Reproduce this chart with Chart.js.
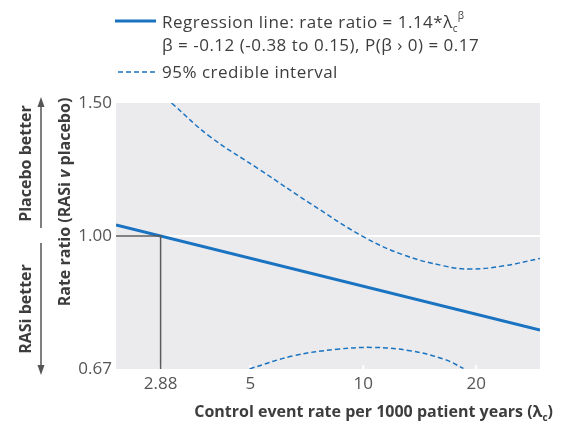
<!DOCTYPE html>
<html lang="en">
<head>
    <meta charset="UTF-8">
    <title>Rate ratio vs control event rate</title>
    <script src="https://cdn.jsdelivr.net/npm/chart.js"></script>
    <style>
        html, body { margin: 0; padding: 0; background: #fff; }
        #wrap { width: 568px; height: 425px; }
    </style>
</head>
<body>
    <div id="wrap"><canvas id="rateChart" width="568" height="425"></canvas></div>

    <script>
        // axis ranges and ticks (log scales)
        const xRange = [2.19, 29.6];
        const yRange = [0.6667, 1.5];
        const xTicks = [2.88, 5, 10, 20];
        const xTickLabels = ['2.88', '5', '10', '20'];
        const yTicks = [0.6667, 1, 1.5];
        const yTickLabels = ['0.67', '1.00', '1.50'];

        // regression line (straight on log-log axes)
        const regX = [2.19, 29.6];
        const regY = [1.034, 0.751];

        // 95% credible interval
        const upperX = [3.08, 3.90, 5.31, 7.21, 10.0, 12.8, 16.4, 19.3, 23.7, 29.6];
        const upperY = [1.5, 1.354, 1.223, 1.105, 0.998, 0.944, 0.913, 0.904, 0.913, 0.934];
        const lowerX = [4.97, 6.51, 8.50, 10.6, 13.3, 16.4, 18.5];
        const lowerY = [0.667, 0.694, 0.708, 0.712, 0.705, 0.687, 0.668];

        // reference lines at rate ratio 1.00 and control rate 2.88
        const refX = [2.19, 2.88, 2.88];
        const refY = [1, 1, 0.6667];

        const BLUE = '#1a73c0';
        const FONT = '"Open Sans", sans-serif';
        const TEXT = '#3d3d3d';

        const pts = (xs, ys) => xs.map((x, i) => ({ x: x, y: ys[i] }));

        // grey plot panel, white ticks, legend and axis titles
        const decorations = {
            id: 'decorations',
            beforeDraw(chart) {
                const a = chart.chartArea;
                const ctx = chart.ctx;
                ctx.save();
                ctx.fillStyle = '#ebebee';
                ctx.fillRect(a.left, a.top, a.right - a.left, a.bottom - a.top);
                ctx.restore();
            },
            beforeDatasetsDraw(chart) {
                const a = chart.chartArea;
                const ctx = chart.ctx;
                const xs = chart.scales.x;
                ctx.save();
                ctx.strokeStyle = '#ffffff';
                ctx.lineWidth = 2;
                xTicks.forEach(v => {
                    const px = xs.getPixelForValue(v);
                    ctx.beginPath();
                    ctx.moveTo(px, a.bottom);
                    ctx.lineTo(px, a.bottom - 4);
                    ctx.stroke();
                });
                ctx.restore();
            },
            afterDraw(chart) {
                const ctx = chart.ctx;
                const a = chart.chartArea;
                const ys = chart.scales.y;
                ctx.save();

                // legend
                ctx.strokeStyle = BLUE;
                ctx.lineWidth = 3;
                ctx.beginPath();
                ctx.moveTo(115, 21);
                ctx.lineTo(156, 21);
                ctx.stroke();
                ctx.lineWidth = 1.5;
                ctx.setLineDash([5, 3]);
                ctx.beginPath();
                ctx.moveTo(118, 72);
                ctx.lineTo(156, 72);
                ctx.stroke();
                ctx.setLineDash([]);

                ctx.fillStyle = TEXT;
                ctx.textBaseline = 'alphabetic';
                ctx.textAlign = 'left';
                ctx.letterSpacing = '0.5px';
                ctx.font = '17px ' + FONT;
                const l1 = 'Regression line: rate ratio = 1.14*\u03bb';
                ctx.fillText(l1, 162, 28);
                const w1 = ctx.measureText(l1).width;
                ctx.font = '10px ' + FONT;
                ctx.fillText('c', 162 + w1, 32);
                ctx.fillText('\u03b2', 162 + w1 + 5, 19);
                ctx.font = '17px ' + FONT;
                ctx.fillText('\u03b2 = -0.12 (-0.38 to 0.15), P(\u03b2 \u203a 0) = 0.17', 162, 51);
                ctx.fillText('95% credible interval', 162, 78);
                ctx.letterSpacing = '0px';

                // x axis title
                ctx.font = 'bold 16px ' + FONT;
                const xt = 'Control event rate per 1000 patient years (\u03bb';
                const wx = ctx.measureText(xt).width;
                ctx.font = 'bold 10px ' + FONT;
                const wc = ctx.measureText('c').width;
                ctx.font = 'bold 16px ' + FONT;
                const wp = ctx.measureText(')').width;
                let x0 = 553 - (wx + wc + wp);
                ctx.textBaseline = 'middle';
                ctx.fillText(xt, x0, 412);
                ctx.font = 'bold 10px ' + FONT;
                ctx.fillText('c', x0 + wx, 418);
                ctx.font = 'bold 16px ' + FONT;
                ctx.fillText(')', x0 + wx + wc, 412);

                // y axis title, rotated, with italic v
                const partA = 'Rate ratio (RASi ';
                const partB = 'v';
                const partC = ' placebo)';
                ctx.translate(65, 202);
                ctx.rotate(-Math.PI / 2);
                ctx.font = 'bold 16px ' + FONT;
                const wa = ctx.measureText(partA).width;
                const wcc = ctx.measureText(partC).width;
                ctx.font = 'italic bold 16px ' + FONT;
                const wb = ctx.measureText(partB).width;
                let sx = -(wa + wb + wcc) / 2;
                ctx.font = 'bold 16px ' + FONT;
                ctx.fillText(partA, sx, 0);
                ctx.font = 'italic bold 16px ' + FONT;
                ctx.fillText(partB, sx + wa, 0);
                ctx.font = 'bold 16px ' + FONT;
                ctx.fillText(partC, sx + wa + wb, 0);
                ctx.setTransform(1, 0, 0, 1, 0, 0);
                ctx.scale(chart.currentDevicePixelRatio, chart.currentDevicePixelRatio);

                // side annotations
                const yOne = ys.getPixelForValue(1);
                ctx.textAlign = 'center';
                ctx.save();
                ctx.translate(26, (a.top - 6 + yOne - 8) / 2 + 1);
                ctx.rotate(-Math.PI / 2);
                ctx.fillText('Placebo better', 0, 0);
                ctx.restore();
                ctx.save();
                ctx.translate(26, (yOne + 7 + a.bottom + 6) / 2);
                ctx.rotate(-Math.PI / 2);
                ctx.fillText('RASi better', 0, 0);
                ctx.restore();

                ctx.strokeStyle = '#555';
                ctx.fillStyle = '#555';
                ctx.lineWidth = 1.5;
                const ax = 41;
                const upTop = a.top - 6, upBot = yOne - 8;
                const dnTop = yOne + 7, dnBot = a.bottom + 6;
                ctx.beginPath();
                ctx.moveTo(ax, upBot);
                ctx.lineTo(ax, upTop + 8);
                ctx.moveTo(ax, dnTop);
                ctx.lineTo(ax, dnBot - 8);
                ctx.stroke();
                ctx.beginPath();
                ctx.moveTo(ax, upTop);
                ctx.lineTo(ax - 3.5, upTop + 10);
                ctx.lineTo(ax + 3.5, upTop + 10);
                ctx.closePath();
                ctx.fill();
                ctx.beginPath();
                ctx.moveTo(ax, dnBot);
                ctx.lineTo(ax - 3.5, dnBot - 10);
                ctx.lineTo(ax + 3.5, dnBot - 10);
                ctx.closePath();
                ctx.fill();

                ctx.restore();
            }
        };

        const ctx = document.getElementById('rateChart').getContext('2d');
        new Chart(ctx, {
            type: 'line',
            data: {
                datasets: [
                    {
                        label: 'Reference',
                        data: pts(refX, refY),
                        borderColor: '#5a5a5a',
                        borderWidth: 1.5,
                        pointRadius: 0,
                        tension: 0,
                        clip: 0
                    },
                    {
                        label: '95% credible interval (upper)',
                        data: pts(upperX, upperY),
                        borderColor: BLUE,
                        borderWidth: 1.5,
                        borderDash: [5, 3],
                        pointRadius: 0,
                        tension: 0.4,
                        clip: 0
                    },
                    {
                        label: '95% credible interval (lower)',
                        data: pts(lowerX, lowerY),
                        borderColor: BLUE,
                        borderWidth: 1.5,
                        borderDash: [5, 3],
                        pointRadius: 0,
                        tension: 0.4,
                        clip: 0
                    },
                    {
                        label: 'Regression line',
                        data: pts(regX, regY),
                        borderColor: BLUE,
                        borderWidth: 3,
                        pointRadius: 0,
                        tension: 0,
                        clip: 0
                    }
                ]
            },
            options: {
                responsive: false,
                animation: false,
                devicePixelRatio: 1,
                layout: { padding: { top: 103, right: 28, left: 0, bottom: 0 } },
                plugins: {
                    legend: { display: false },
                    tooltip: { enabled: false }
                },
                scales: {
                    x: {
                        type: 'logarithmic',
                        min: xRange[0],
                        max: xRange[1],
                        bounds: 'data',
                        afterFit: s => { s.height = 56; },
                        afterBuildTicks: s => { s.ticks = xTicks.map(v => ({ value: v })); },
                        grid: { display: false, drawTicks: false },
                        border: { display: false },
                        ticks: {
                            padding: 5,
                            maxRotation: 0,
                            autoSkip: false,
                            color: '#555',
                            font: { family: FONT, size: 17 },
                            callback: (v, i) => xTickLabels[i]
                        }
                    },
                    y: {
                        type: 'logarithmic',
                        min: yRange[0],
                        max: yRange[1],
                        bounds: 'data',
                        afterFit: s => { s.width = 116; },
                        afterBuildTicks: s => { s.ticks = yTicks.map(v => ({ value: v })); },
                        grid: {
                            drawTicks: false,
                            lineWidth: 2,
                            color: c => (c.tick && c.tick.value === 1) ? '#ffffff' : 'rgba(0,0,0,0)'
                        },
                        border: { display: false },
                        ticks: {
                            padding: 4,
                            autoSkip: false,
                            color: '#555',
                            font: { family: FONT, size: 17 },
                            callback: (v, i) => yTickLabels[i]
                        }
                    }
                }
            },
            plugins: [decorations]
        });
    </script>
</body>
</html>
